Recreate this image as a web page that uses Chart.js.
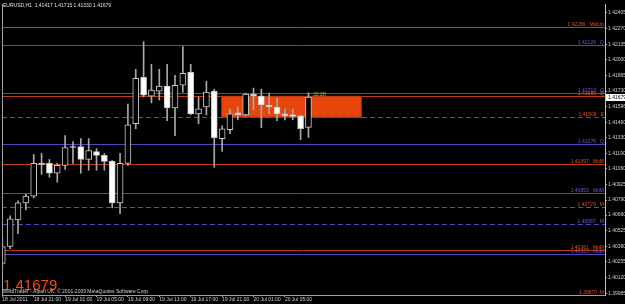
<!DOCTYPE html>
<html>
<head>
<meta charset="utf-8">
<script src="https://cdn.jsdelivr.net/npm/chart.js@4.4.0/dist/chart.umd.min.js"></script>
<style>
html, body { margin:0; padding:0; background:#000; }
</style>
</head>
<body>
<canvas id="chart" width="625" height="304"></canvas>
<script>
// symbol + timeframe shown top left
var symbol = "EURUSD,H1";

// hourly bars, 18 Jul 17:00 .. 20 Jul 08:00
var opens  = [1.40243,1.40389,1.40619,1.40765,1.40824,1.41106,1.41106,1.41021,1.41089,1.41252,
              1.41252,1.41140,1.41209,1.41175,1.41123,1.40765,1.41106,1.41448,1.41850,1.41687,
              1.41730,1.41773,1.41585,1.41781,1.41892,1.41534,1.41593,1.41730,1.41320,1.41397,
              1.41542,1.41525,1.41704,1.41687,1.41610,1.41593,1.41534,1.41525,1.41516,1.41417];
var highs  = [1.40466,1.40653,1.40782,1.40841,1.41183,1.41192,1.41140,1.41106,1.41346,1.41294,
              1.41320,1.41320,1.41234,1.41192,1.41132,1.41192,1.41619,1.41918,1.42157,1.41961,
              1.41918,1.41961,1.41867,1.42115,1.41961,1.41679,1.41815,1.41747,1.41431,1.41576,
              1.41593,1.41713,1.41756,1.41747,1.41713,1.41670,1.41576,1.41576,1.41525,1.41715];
var lows   = [1.40201,1.40371,1.40500,1.40705,1.40807,1.41012,1.40987,1.40944,1.41055,1.41106,
              1.41021,1.41047,1.41047,1.41047,1.40722,1.40671,1.41089,1.41405,1.41679,1.41628,
              1.41653,1.41474,1.41346,1.41721,1.41525,1.41448,1.41525,1.41072,1.41209,1.41363,
              1.41482,1.41516,1.41568,1.41414,1.41534,1.41474,1.41482,1.41482,1.41311,1.41330];
var closes = [1.40389,1.40628,1.40765,1.40824,1.41106,1.41098,1.41021,1.41089,1.41243,1.41243,
              1.41140,1.41217,1.41175,1.41123,1.40765,1.41106,1.41440,1.41841,1.41696,1.41739,
              1.41773,1.41585,1.41781,1.41884,1.41534,1.41576,1.41721,1.41328,1.41405,1.41534,
              1.41525,1.41704,1.41687,1.41610,1.41593,1.41534,1.41516,1.41512,1.41405,1.41679];

// time axis labels (every 4 bars)
var timeTickBars = [0,4,8,12,16,20,24,28,32,36];
var timeLabels = ["18 Jul 2011","18 Jul 21:00","19 Jul 01:00","19 Jul 05:00","19 Jul 09:00",
                  "19 Jul 13:00","19 Jul 17:00","19 Jul 21:00","20 Jul 01:00","20 Jul 05:00"];

// price axis labels
var priceTicks = [1.42405,1.42270,1.42135,1.42000,1.41865,1.41730,1.41596,1.41460,1.41330,1.41190,
                  1.41060,1.40925,1.40790,1.40660,1.40525,1.40390,1.40255,1.40120,1.39985];

// pivot levels drawn by the indicator
var levelPrices = [1.42286,1.42129,1.41713,1.41689,1.41508,1.41276,1.41097,1.40853,1.40729,1.40587,1.40361,1.40323];
var levelNames  = ["MidUp","Q","Q","Q","E","Q","MoM","MoM","M","M","MoM","MoM"];
var levelSide   = ["up","dn","dn","up","up","dn","up","dn","up","dn","up","dn"];
var levelDashed = [false,false,false,false,true,false,false,false,true,true,false,false];

// zone box (bar range / price range) and bar timer
var zoneBars   = [27.86, 45.8];
var zonePrices = [1.41500, 1.41689];
var timerText  = "32:28";

var lastBar = opens.length - 1;
var bodies = opens.map(function(o, i){ return {x:i, y:[o, closes[i]]}; });
var wicks  = lows.map(function(l, i){ return {x:i, y:[l, highs[i]]}; });
var bodyFill = opens.map(function(o, i){ return closes[i] >= o ? "#000000" : "#FFFFFF"; });

var ORANGE = "#C03C10", ORANGE_TXT = "#E0501C";
var PURPLE = "#5546C0", PURPLE_TXT = "#6A5AD8";
var SMALL = "5px 'Liberation Sans'";

var overlay = {
  id: "mtOverlay",
  beforeDraw: function(chart){
    var ctx = chart.ctx;
    ctx.save();
    ctx.fillStyle = "#000000";
    ctx.fillRect(0, 0, chart.width, chart.height);
    ctx.restore();
  },
  beforeDatasetsDraw: function(chart){
    var ctx = chart.ctx, a = chart.chartArea;
    var xs = chart.scales.x, ys = chart.scales.y;
    ctx.save();
    // zone rectangle
    var x1 = xs.getPixelForValue(zoneBars[0]), x2 = xs.getPixelForValue(zoneBars[1]);
    var y1 = ys.getPixelForValue(zonePrices[1]), y2 = ys.getPixelForValue(zonePrices[0]);
    ctx.fillStyle = "#E6450B";
    ctx.fillRect(x1, y1, x2 - x1, y2 - y1);
    ctx.strokeStyle = "#9A2A06";
    ctx.lineWidth = 1;
    ctx.strokeRect(x1 + 0.5, y1 + 0.5, x2 - x1 - 1, y2 - y1 - 1);

    // level lines + labels
    ctx.font = SMALL;
    ctx.textAlign = "right";
    ctx.textBaseline = "alphabetic";
    for (var i = 0; i < levelPrices.length; i++) {
      var y = Math.round(ys.getPixelForValue(levelPrices[i])) + 0.5;
      var up = levelSide[i] == "up";
      ctx.strokeStyle = up ? ORANGE : PURPLE;
      ctx.setLineDash(levelDashed[i] ? [5,3] : []);
      ctx.beginPath();
      ctx.moveTo(a.left, y);
      ctx.lineTo(a.right, y);
      ctx.stroke();
      ctx.fillStyle = up ? ORANGE_TXT : PURPLE_TXT;
      ctx.fillText(levelPrices[i].toFixed(5) + "   " + levelNames[i], a.right - 1, y - 1.5);
    }
    ctx.setLineDash([]);
    ctx.restore();
  },
  afterDraw: function(chart){
    var ctx = chart.ctx, a = chart.chartArea;
    var xs = chart.scales.x, ys = chart.scales.y;
    ctx.save();
    // left frame line
    ctx.strokeStyle = "#A0A0A0";
    ctx.beginPath();
    ctx.moveTo(a.left + 0.5, a.top);
    ctx.lineTo(a.left + 0.5, a.bottom);
    ctx.stroke();

    // header
    ctx.font = SMALL;
    ctx.fillStyle = "#E0E0E0";
    ctx.textAlign = "left";
    ctx.fillText(symbol + "  " + opens[lastBar].toFixed(5) + " " + highs[lastBar].toFixed(5) + " " +
                 lows[lastBar].toFixed(5) + " " + closes[lastBar].toFixed(5), 3, 7);

    // bar timer
    ctx.fillStyle = "#B8B800";
    ctx.fillText(timerText, xs.getPixelForValue(lastBar + 0.6), ys.getPixelForValue(closes[lastBar]) - 1);

    // big last price
    ctx.font = "15px 'Liberation Sans'";
    ctx.fillStyle = "#FF4A00";
    ctx.fillText(closes[lastBar].toFixed(5), 3, 290);

    ctx.font = SMALL;
    ctx.fillStyle = "#D0D0D0";
    ctx.fillText("MetaTrader - Alpari UK, \u00A9 2001-2009 MetaQuotes Software Corp.", 3, 293);

    // bottom level label
    ctx.textAlign = "right";
    ctx.fillStyle = ORANGE_TXT;
    ctx.fillText(ys.min.toFixed(5) + "  M", a.right - 1, a.bottom - 1);

    // current price box on the axis
    var py = Math.round(ys.getPixelForValue(closes[lastBar]));
    ctx.fillStyle = "#FFFFFF";
    ctx.fillRect(a.right + 1, py - 3, chart.width - a.right - 1, 7);
    ctx.fillStyle = "#000000";
    ctx.textAlign = "left";
    ctx.textBaseline = "middle";
    ctx.fillText(closes[lastBar].toFixed(5), a.right + 3, py + 0.5);
    ctx.restore();
  }
};

new Chart(document.getElementById("chart"), {
  type: "bar",
  data: {
    datasets: [
      {
        data: bodies,
        grouped: false,
        order: 1,
        barThickness: 6,
        backgroundColor: bodyFill,
        borderColor: "#C8C8C8",
        borderWidth: 1,
        borderSkipped: false
      },
      {
        data: wicks,
        grouped: false,
        order: 2,
        barThickness: 1,
        backgroundColor: "#A8A8A8",
        borderWidth: 0
      }
    ]
  },
  options: {
    responsive: false,
    animation: false,
    devicePixelRatio: 1,
    layout: { padding: { left: 2, top: 1, right: 0, bottom: 0 } },
    plugins: { legend: { display: false }, tooltip: { enabled: false } },
    scales: {
      x: {
        type: "linear",
        offset: false,
        min: -0.04,
        max: 76.78,
        afterBuildTicks: function(scale){
          scale.ticks = timeTickBars.map(function(v){ return {value: v}; });
        },
        afterFit: function(scale){ scale.height = 9; },
        ticks: {
          autoSkip: false,
          maxRotation: 0,
          align: "start",
          padding: 0,
          color: "#D0D0D0",
          font: { family: "Liberation Sans", size: 5 },
          callback: function(v){ return timeLabels[timeTickBars.indexOf(v)]; }
        },
        grid: { drawOnChartArea: false, offset: false, tickLength: 2, color: "#A0A0A0" },
        border: { color: "#A0A0A0" }
      },
      y: {
        position: "right",
        min: 1.39970,
        max: 1.42482,
        afterBuildTicks: function(scale){
          scale.ticks = priceTicks.map(function(v){ return {value: v}; });
        },
        afterFit: function(scale){ scale.width = 20; },
        ticks: {
          padding: 1,
          color: "#D0D0D0",
          font: { family: "Liberation Sans", size: 5 },
          callback: function(v){ return v.toFixed(5); }
        },
        grid: { drawOnChartArea: false, tickLength: 2, color: "#A0A0A0" },
        border: { color: "#C0C0C0" }
      }
    }
  },
  plugins: [overlay]
});
</script>
</body>
</html>
